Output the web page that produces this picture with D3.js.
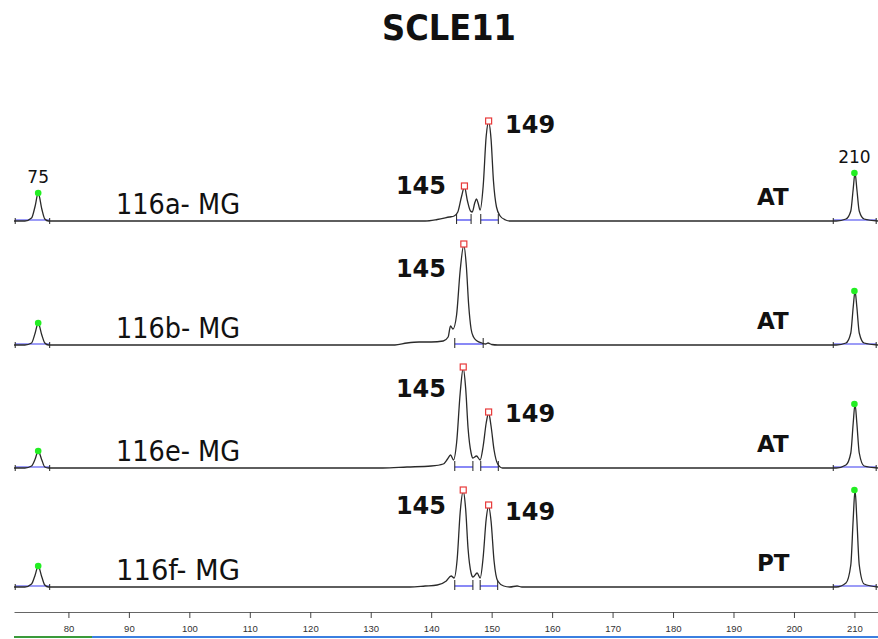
<!DOCTYPE html>
<html lang="en">
<head>
    <meta charset="UTF-8">
    <title>SCLE11</title>
    <style>
        body{ margin: 0; background: #fff; }
        svg{ display: block; }
    </style>
    <script src="https://cdn.jsdelivr.net/npm/d3@7"></script>
</head>
<body>
<script>
    // ---- data ----
    const title = "SCLE11"
    const samples = ["116a- MG", "116b- MG", "116e- MG", "116f- MG"]
    const genotypes = ["AT", "AT", "AT", "PT"]
    const sizeTicks = [80, 90, 100, 110, 120, 130, 140, 150, 160, 170, 180, 190, 200, 210]

    // [size (bp), signal] key points of each trace
    const trace1 = [[71,0],[72.8,0],[73.9,3],[74.5,15],[75,28],[75.6,12],[76.1,2],[76.7,0],
        [139,0],[141,1.5],[143,4],[143.8,5],[144.4,9],[145,24],[145.5,34],[146,20],[146.5,10],[146.8,9],
        [147.2,18],[147.5,22],[147.8,17],[148.1,11],[148.6,35],[149.1,85],[149.5,99],[149.9,82],[150.3,40],
        [150.8,14],[151.4,5],[152.3,1],[153,0],
        [207,0],[208.6,2],[209.4,10],[209.8,32],[210.1,48],[210.4,32],[210.8,10],[211.6,2],[213.9,0]]
    const trace2 = [[71,0],[72.8,0],[73.9,2],[74.5,12],[75,22],[75.6,10],[76.1,2],[76.7,0],
        [134,0],[136,2],[138,3],[140,3],[142,4],[142.8,8],[143.2,19],[143.6,16],[144.2,30],[144.8,75],
        [145.4,100],[145.8,80],[146.2,40],[146.6,16],[147,8],[147.6,4],[148.4,2],[149,1],[149.4,2],[150,0.5],[151,0],
        [207,0],[208.6,2],[209.4,12],[209.8,38],[210.1,54],[210.4,38],[210.8,12],[211.6,2],[213.9,0]]
    const trace3 = [[71,0],[72.8,0],[73.9,2],[74.5,9],[75,17],[75.6,8],[76.1,1],[76.7,0],
        [132,0],[136,1],[140,2],[142,4],[142.7,9],[143.2,13],[143.7,8],[144.2,25],[144.8,75],[145.3,100],
        [145.7,80],[146.1,40],[146.6,15],[146.9,10],[147.5,12],[148.1,8],[148.6,22],[149.1,45],[149.5,55],
        [149.9,42],[150.4,18],[151,4],[151.8,0],
        [207,0],[208.6,3],[209.4,15],[209.8,45],[210.1,64],[210.4,45],[210.8,15],[211.6,2],[213.9,0]]
    const trace4 = [[71,0],[72.8,0],[73.9,3],[74.5,12],[75,21],[75.6,10],[76.1,2],[76.7,0],
        [136.5,0],[139,1],[141,2],[142.5,6],[143.3,11],[143.8,9],[144.3,28],[144.8,75],[145.3,96],
        [145.7,78],[146.1,38],[146.6,14],[146.9,10],[147.6,14],[148.1,9],[148.6,30],[149.1,68],[149.5,81],
        [149.9,66],[150.4,26],[151,6],[152,1],[153,0],[154.2,1],[155,0],
        [207,0],[208.6,4],[209.4,22],[209.8,68],[210.1,97],[210.4,68],[210.8,22],[211.6,3],[213.9,0]]
    const traces = [trace1, trace2, trace3, trace4]

    // size standard peaks (green dots): [size, signal]
    const ladder = [[[75,28],[210,48]], [[75,22],[210,54]], [[75,17],[210,64]], [[75,21],[210,97]]]
    // called allele peaks (red squares): [size, signal, label]
    const alleles = [
        [[145.5,34,"145"],[149.5,99,"149"]],
        [[145.4,100,"145"]],
        [[145.3,100,"145"],[149.5,55,"149"]],
        [[145.3,96,"145"],[149.5,81,"149"]]
    ]
    // peak bins (blue lines): [start, end]
    const bins = [
        [[71.2,76.9],[144.2,146.6],[148.2,151.1],[206.5,213.6]],
        [[71.2,76.9],[143.9,148.6],[206.5,213.6]],
        [[71.2,76.9],[143.9,146.9],[148.2,151.1],[206.5,213.6]],
        [[71.2,76.9],[143.9,146.9],[148.1,151],[206.5,213.6]]
    ]

    // ---- layout ----
    const width = 878
    const height = 639
    const baselines = [221, 345, 468, 587]
    const alleleLabelY = [[-27, -88], [-68], [-71, -46], [-73, -67]]

    let svg = d3.select("body").append("svg")
        .attr("width", width)
        .attr("height", height)
        .style("font-family", "'DejaVu Sans', Verdana, sans-serif")

    let x = d3.scaleLinear().domain([71, 213.9]).range([14, 878])
    let y = d3.scaleLinear().domain([0, 100]).range([0, -100])

    svg.append("text")
        .attr("x", 449).attr("y", 40)
        .attr("text-anchor", "middle")
        .attr("font-weight", "bold")
        .attr("font-size", 36)
        .attr("textLength", 134)
        .attr("lengthAdjust", "spacingAndGlyphs")
        .attr("fill", "#111")
        .text(title)

    let line = d3.line()
        .x(d => x(d[0]))
        .y(d => y(d[1]))
        .curve(d3.curveMonotoneX)

    traces.forEach(function(tr, i){
        let g = svg.append("g").attr("transform", `translate(0,${baselines[i]})`)

        // bins
        g.selectAll(".bin")
            .data(bins[i])
            .enter()
            .append("line")
            .attr("x1", d => x(d[0])).attr("x2", d => x(d[1]))
            .attr("y1", -1).attr("y2", -1)
            .attr("stroke", "#3a3af0").attr("stroke-width", 1.2)
        let ends = bins[i].flat()
        g.selectAll(".tick")
            .data(ends)
            .enter()
            .append("line")
            .attr("x1", d => x(d)).attr("x2", d => x(d))
            .attr("y1", d => (d > 140 && d < 160) ? -7 : -3).attr("y2", 3)
            .attr("stroke", "#222").attr("stroke-width", 1)

        // trace
        g.append("path")
            .datum(tr)
            .attr("d", line)
            .attr("fill", "none")
            .attr("stroke", "#2a2a2a")
            .attr("stroke-width", 1.3)

        // ladder dots
        g.selectAll(".lad")
            .data(ladder[i])
            .enter()
            .append("circle")
            .attr("cx", d => x(d[0]))
            .attr("cy", d => y(d[1]))
            .attr("r", 3.3)
            .attr("fill", "#22ee22")

        // allele squares
        g.selectAll(".al")
            .data(alleles[i])
            .enter()
            .append("rect")
            .attr("x", d => x(d[0]) - 3)
            .attr("y", d => y(d[1]) - 4)
            .attr("width", 6).attr("height", 6)
            .attr("fill", "#fff")
            .attr("stroke", "#e83a3a").attr("stroke-width", 1.2)

        // allele labels
        g.selectAll(".alt")
            .data(alleles[i])
            .enter()
            .append("text")
            .attr("x", d => d[2] == "145" ? 446 : 505)
            .attr("y", (d, j) => alleleLabelY[i][j])
            .attr("text-anchor", d => d[2] == "145" ? "end" : "start")
            .attr("font-weight", "bold")
            .attr("font-size", 24)
            .attr("fill", "#111")
            .text(d => d[2])

        // sample name
        g.append("text")
            .attr("x", 116).attr("y", -7)
            .attr("font-size", 28)
            .attr("textLength", 124)
            .attr("lengthAdjust", "spacingAndGlyphs")
            .attr("fill", "#111")
            .text(samples[i])

        // genotype
        g.append("text")
            .attr("x", 757).attr("y", -16)
            .attr("font-weight", "bold")
            .attr("font-size", 23)
            .attr("fill", "#111")
            .text(genotypes[i])

        // ladder size labels on the first lane
        if (i == 0) {
            g.selectAll(".ladt")
                .data(ladder[i])
                .enter()
                .append("text")
                .attr("x", d => x(d[0]))
                .attr("y", d => y(d[1]) - 10)
                .attr("text-anchor", "middle")
                .attr("font-size", 17)
                .attr("fill", "#111")
                .text(d => d[0])
        }
    })

    // size axis
    let axis = d3.axisBottom(x).tickValues(sizeTicks).tickSize(6).tickSizeOuter(0)
    let gAxis = svg.append("g").attr("transform", "translate(0,612)").call(axis)
    gAxis.select(".domain").attr("stroke", "#666")
    gAxis.selectAll(".tick line").attr("stroke", "#444")
    gAxis.selectAll(".tick text")
        .attr("y", 13)
        .attr("font-family", "'Liberation Sans', Arial, sans-serif")
        .attr("font-size", 9.5)
        .attr("fill", "#333")

    // colour strip under the axis
    svg.append("rect").attr("x", 14).attr("y", 636).attr("width", 864).attr("height", 2).attr("fill", "#3b7fe0")
    svg.append("rect").attr("x", 14).attr("y", 636).attr("width", 78).attr("height", 2).attr("fill", "#3a9a3a")
</script>
</body>
</html>
